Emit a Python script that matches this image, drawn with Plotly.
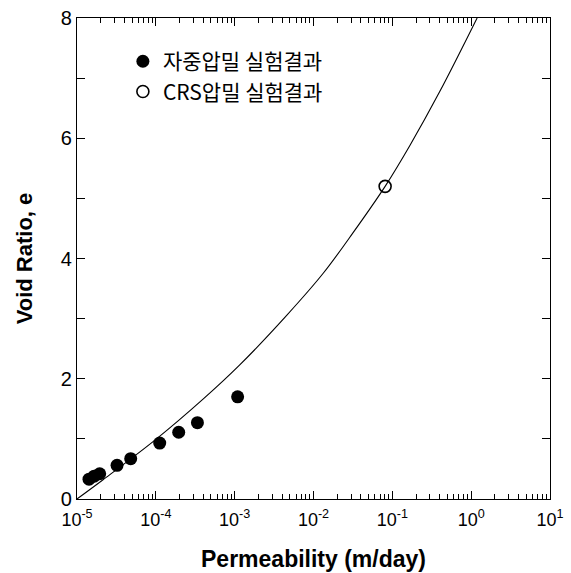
import plotly.graph_objects as go

# Self-weight consolidation test results (filled circles)
k_self = [1.42e-5, 1.65e-5, 1.94e-5, 3.22e-5, 4.8e-5, 1.12e-4, 1.95e-4, 3.37e-4, 1.09e-3]
e_self = [0.33, 0.38, 0.42, 0.56, 0.67, 0.93, 1.11, 1.27, 1.70]

# CRS consolidation test result (open circle)
k_crs = [8.1e-2]
e_crs = [5.2]

# Fitted curve
k_fit = [1e-5, 2.14e-5, 1.02e-4, 3.97e-4, 1.16e-3, 4.54e-3, 1.32e-2, 3.18e-2, 8.1e-2, 0.167, 0.401, 1.19]
e_fit = [0.0, 0.32, 1.0, 1.66, 2.23, 3.05, 3.75, 4.43, 5.2, 5.88, 6.78, 8.0]

# x tick labels
x_exponents = [-5, -4, -3, -2, -1, 0, 1]
x_ticktext = ["10<sup>%d</sup>" % p for p in x_exponents]

legend_self = "자중압밀 실험결과"
legend_crs = "CRS압밀 실험결과"
x_title = "Permeability (m/day)"
y_title = "Void Ratio, e"

font_main = "Liberation Sans, Arial, sans-serif"
font_kr = "Noto Sans CJK KR, Liberation Sans, sans-serif"

x_tickvals = [10.0 ** p for p in x_exponents]
# minor tick positions on the log axis (2..9 within each decade)
minor_x = [m * 10.0 ** p for p in range(-5, 1) for m in range(2, 10)]

fig = go.Figure()
fig.add_trace(go.Scatter(x=k_fit, y=e_fit, mode="lines",
                         line=dict(color="black", width=1.1, shape="spline", smoothing=1.0),
                         showlegend=False, hoverinfo="skip"))
fig.add_trace(go.Scatter(x=k_self, y=e_self, mode="markers", name=legend_self,
                         marker=dict(symbol="circle", size=13, color="black")))
fig.add_trace(go.Scatter(x=k_crs, y=e_crs, mode="markers", name=legend_crs,
                         marker=dict(symbol="circle-open", size=12, color="black", line=dict(width=1.6))))
# invisible trace so that the minor-tick overlay axis is drawn
fig.add_trace(go.Scatter(x=[None], y=[None], xaxis="x2", yaxis="y", mode="markers",
                         showlegend=False, hoverinfo="skip"))

fig.update_layout(
    width=571, height=573,
    margin=dict(l=77, r=21, t=18, b=74),
    paper_bgcolor="white", plot_bgcolor="white",
    font=dict(family=font_main, color="black", size=19),
    legend=dict(x=0.097, y=0.952, xanchor="left", yanchor="top", bgcolor="rgba(0,0,0,0)",
                font=dict(family=font_kr, size=21), tracegroupgap=0, itemwidth=30),
    xaxis=dict(
        type="log", range=[-5, 1], tickmode="array", tickvals=x_tickvals, ticktext=x_ticktext,
        showgrid=False, zeroline=False, showline=True, linecolor="black", linewidth=1.2, mirror="allticks",
        ticks="inside", ticklen=8, tickcolor="black", automargin=False, ticklabelstandoff=4,
        title=dict(text=x_title, font=dict(size=23, weight="bold"), standoff=22),
        tickfont=dict(size=18),
    ),
    xaxis2=dict(
        type="log", range=[-5, 1], overlaying="x", side="bottom", tickmode="array", tickvals=minor_x,
        showticklabels=False, showgrid=False, zeroline=False, showline=False, mirror="allticks",
        ticks="inside", ticklen=5, tickcolor="black", automargin=False,
    ),
    yaxis=dict(
        range=[0, 8], dtick=2, showgrid=False, zeroline=False, showline=True, linecolor="black", linewidth=1.2,
        mirror="allticks", ticks="inside", ticklen=8, tickcolor="black", automargin=False,
        minor=dict(ticks="inside", ticklen=5, dtick=1, tickcolor="black", showgrid=False),
        title=dict(text=y_title, font=dict(size=22, weight="bold"), standoff=22),
        tickfont=dict(size=20),
    ),
)

# remove the browser's default body margin so the figure fills the window exactly
fig.write_html("out.html", config={"displayModeBar": False},
               post_script="document.body.style.margin='0px';")
